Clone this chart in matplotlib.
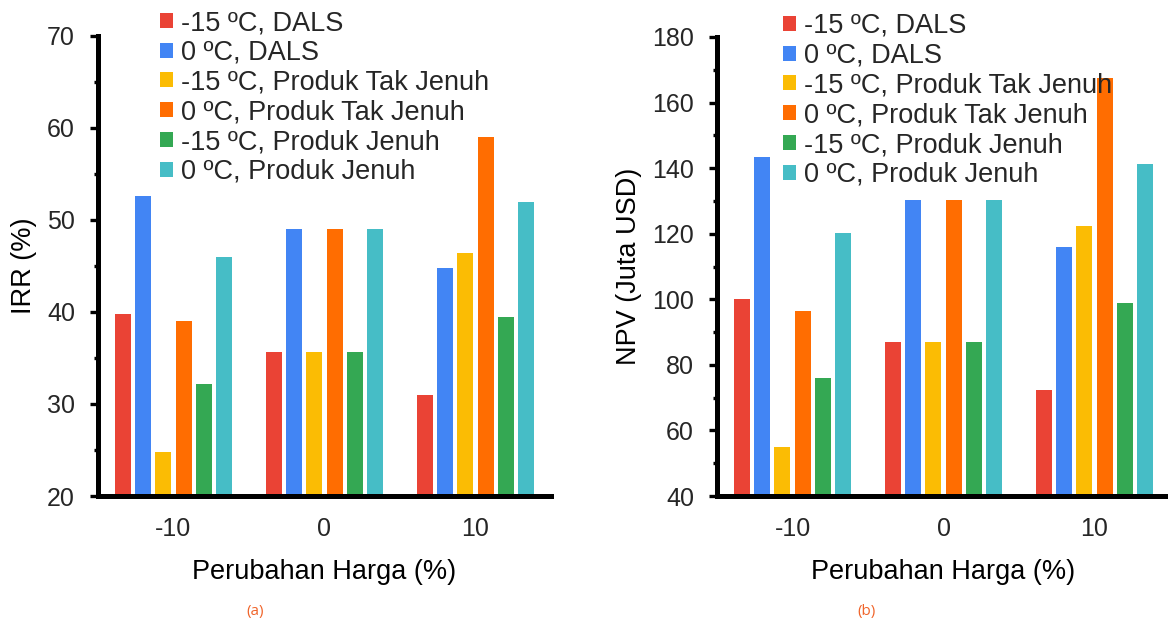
import numpy as np
import matplotlib.pyplot as plt
from matplotlib.ticker import MultipleLocator

plt.rcParams['font.family'] = ['Liberation Sans', 'DejaVu Sans']
plt.rcParams['text.color'] = '#262626'

# price change scenarios (%)
groups = ['-10', '0', '10']
series = ['-15 ºC, DALS', '0 ºC, DALS',
          '-15 ºC, Produk Tak Jenuh', '0 ºC, Produk Tak Jenuh',
          '-15 ºC, Produk Jenuh', '0 ºC, Produk Jenuh']
colors = ['#EA4335', '#4285F4', '#FBBC04', '#FF6D01', '#34A853', '#46BDC6']

# IRR (%)
irr_dals_m15 = [39.8, 35.7, 31.0]
irr_dals_0 = [52.6, 49.0, 44.8]
irr_tak_m15 = [24.8, 35.7, 46.4]
irr_tak_0 = [39.0, 49.0, 59.0]
irr_jenuh_m15 = [32.2, 35.7, 39.5]
irr_jenuh_0 = [46.0, 49.0, 52.0]

# NPV (juta USD)
npv_dals_m15 = [100.2, 87.1, 72.4]
npv_dals_0 = [143.4, 130.2, 115.8]
npv_tak_m15 = [55.0, 87.1, 122.3]
npv_tak_0 = [96.3, 130.2, 167.5]
npv_jenuh_m15 = [76.1, 87.1, 99.0]
npv_jenuh_0 = [120.1, 130.2, 141.2]

irr = [irr_dals_m15, irr_dals_0, irr_tak_m15, irr_tak_0, irr_jenuh_m15, irr_jenuh_0]
npv = [npv_dals_m15, npv_dals_0, npv_tak_m15, npv_tak_0, npv_jenuh_m15, npv_jenuh_0]

W, H = 1168, 621
fig = plt.figure(figsize=(W / 100, H / 100), dpi=100)
ax1 = fig.add_axes([98 / W, 1 - 496 / H, 453 / W, 460 / H])
ax2 = fig.add_axes([717 / W, 1 - 496 / H, 453 / W, 459 / H])

x = np.arange(len(groups))
pitch = 0.1325
width = 0.106


def draw(ax, data, ylim, major, minor, ylabel, leg_x, leg_y):
    handles = []
    for i, vals in enumerate(data):
        b = ax.bar(x + (i - 2.5) * pitch, vals, width, color=colors[i],
                   label=series[i], zorder=2)
        handles.append(b)
    ax.set_xlim(-0.5, 2.5)
    ax.set_ylim(*ylim)
    ax.set_xticks(x)
    ax.set_xticklabels(groups)
    ax.yaxis.set_major_locator(MultipleLocator(major))
    ax.yaxis.set_minor_locator(MultipleLocator(minor))
    for s in ['top', 'right']:
        ax.spines[s].set_visible(False)
    for s in ['left', 'bottom']:
        ax.spines[s].set_linewidth(3.6)
        ax.spines[s].set_color('black')
        ax.spines[s].set_capstyle('projecting')
    ax.tick_params(axis='x', length=0, pad=15, labelsize=18, labelcolor='#262626')
    ax.tick_params(axis='y', which='major', length=5.5, width=2.4, pad=11,
                   labelsize=18, labelcolor='#262626')
    ax.tick_params(axis='y', which='minor', length=3, width=2.4)
    ax.set_xlabel('Perubahan Harga (%)', fontsize=19.5, labelpad=13)
    ax.set_ylabel(ylabel, fontsize=19.5, labelpad=7)
    ax.legend(handles=handles, loc='upper left',
              bbox_to_anchor=(leg_x / W, 1 - leg_y / H),
              bbox_transform=fig.transFigure, frameon=False, fontsize=19.5,
              handlelength=0.48, handleheight=0.48, handletextpad=0.28,
              labelspacing=0.14, borderpad=0, borderaxespad=0)


draw(ax1, irr, (20, 70), 10, 5, 'IRR (%)', 160, 10)
draw(ax2, npv, (40, 180), 20, 10, 'NPV (Juta USD)', 783, 13)

fig.text(255 / W, 1 - 611 / H, '(a)', color='#F0642A', fontsize=11,
         family=['Open Sans', 'DejaVu Sans'], ha='center', va='center')
fig.text(866 / W, 1 - 611 / H, '(b)', color='#F0642A', fontsize=11,
         family=['Open Sans', 'DejaVu Sans'], ha='center', va='center')

fig.savefig('out.png', dpi=100)
